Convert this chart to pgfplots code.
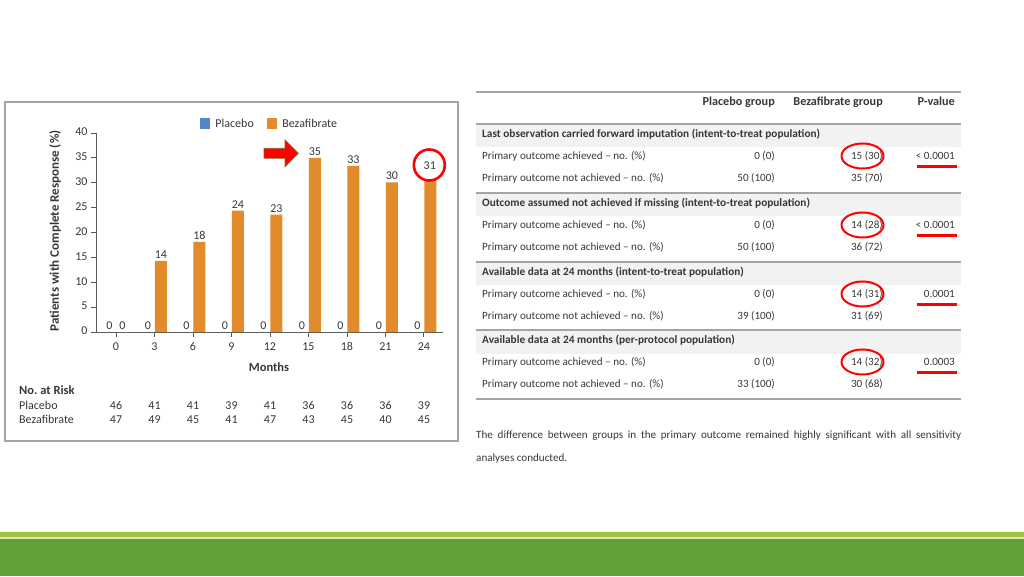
\documentclass[border=0pt]{standalone}
\usepackage{fontspec}
\setmainfont{Carlito}
\usepackage{pgfplots}
\usepackage{pgfplotstable}
\pgfplotsset{compat=1.18}

\definecolor{placebo}{RGB}{84,135,200}
\definecolor{beza}{RGB}{226,139,44}
\definecolor{axgray}{RGB}{90,90,90}
\definecolor{txt}{RGB}{55,55,55}
\definecolor{rulec}{RGB}{165,165,165}
\definecolor{band}{RGB}{242,242,242}
\definecolor{lgreen}{RGB}{157,196,60}
\definecolor{dgreen}{RGB}{96,162,56}
\definecolor{arrowedge}{RGB}{125,110,40}

% percent of patients with complete response
% (the 24-month label is written inside the red circle below)
\pgfplotstableread{
month placebo beza lab
0  0 0    0
3  0 14.3 14
6  0 18.1 18
9  0 24.4 24
12 0 23.6 23
15 0 35.0 35
18 0 33.4 33
21 0 30.1 30
24 0 31.0 {}
}\resp

\newcommand{\chartfont}{\fontsize{12}{14}\selectfont}
\newcommand{\tabfont}{\fontsize{11.1}{13}\selectfont}

\begin{document}
\begin{tikzpicture}[
    ch/.style={font=\chartfont, text=txt, inner sep=0pt},
    tb/.style={font=\tabfont, text=txt, inner sep=0pt}]
\path[use as bounding box] (0,0) rectangle (1024pt,576pt);

\begin{axis}[
    at={(96pt,244pt)}, anchor=south west,
    scale only axis, width=347pt, height=199pt,
    xmin=-1.56, xmax=25.49, ymin=0, ymax=40,
    axis x line*=bottom, axis y line*=left,
    axis line style={axgray, line width=0.9pt},
    xtick={0,3,...,24}, ytick={0,5,...,40},
    tick align=outside, major tick length=5pt,
    tick style={axgray, line width=0.8pt},
    /pgf/number format/assume math mode=true,
    every tick label/.append style={font=\chartfont, text=txt},
    typeset ticklabels with strut,
    ybar, bar width=12pt,
    clip=false,
    every node near coord/.append style={font=\chartfont, text=txt, inner sep=2pt},
    ylabel={Patients with Complete Response (\%)},
    xlabel={Months},
    every axis y label/.style={at={(rel axis cs:-0.118,0.508)}, rotate=90, anchor=center,
        font=\bfseries\fontsize{13}{15}\selectfont, text=txt},
    every axis x label/.style={at={(rel axis cs:0.4986,-0.177)}, anchor=center,
        font=\bfseries\fontsize{12.5}{14}\selectfont, text=txt},
    legend columns=2,
    legend style={at={(0.5,1.047)}, anchor=center, draw=none, fill=none,
        font=\chartfont, text=txt,
        /tikz/every even column/.append style={column sep=11pt}},
    legend image code/.code={\fill[#1,draw=none] (0pt,-5.3pt) rectangle (10.5pt,5.3pt);
        \path (0pt,0pt) -- (13.5pt,0pt);},
]
\addplot[fill=placebo, draw=none, bar shift=-6.5pt, nodes near coords]
    table[x=month, y=placebo] {\resp};
\addlegendentry{Placebo}
\addplot[fill=beza, draw=none, bar shift=6.5pt, nodes near coords,
    point meta=explicit symbolic]
    table[x=month, y=beza, meta=lab] {\resp};
\addlegendentry{Bezafibrate}
\end{axis}

\begin{scope}[x=1pt, y=-1pt, yshift=576pt]
% frame of the figure
\draw[rulec, line width=2pt] (5,102.5) rectangle (457.5,440.5);

% highlight of the 24-month value
\draw[red, line width=2.6pt, fill=white] (429.3,165) circle (15.5);
\node[ch, anchor=base] at (429.8,170) {31};

% arrow pointing at month 15
\draw[arrowedge, line width=0.8pt, fill=red]
    (264,148.3) -- (285,148.3) -- (285,140) -- (298.3,153.3) -- (285,166.7)
    -- (285,158.3) -- (264,158.3) -- cycle;

% number at risk
\node[anchor=base west, font=\bfseries\fontsize{12.5}{14}\selectfont, text=txt, inner sep=0pt]
    at (19,394.5) {No.\ at Risk};
\node[ch, anchor=base west] at (19,409) {Placebo};
\node[ch, anchor=base west] at (19,423.5) {Bezafibrate};
\foreach \m/\p/\b in {0/46/47, 3/41/49, 6/41/45, 9/39/41, 12/41/47,
                      15/36/43, 18/36/45, 21/36/40, 24/39/45} {
  \node[ch, anchor=base] at ({116+12.833*\m},409) {\p};
  \node[ch, anchor=base] at ({116+12.833*\m},423.5) {\b};
}

% table on the right
\draw[rulec, line width=1.2pt] (476,92) -- (961,92);
\foreach \x/\t in {775/Placebo group, 883/Bezafibrate group, 955/P-value}
  \node[anchor=base east, font=\bfseries\fontsize{12.2}{14}\selectfont, text=txt, inner sep=0pt] at (\x,105.5) {\t};

\foreach \ly/\title/\pa/\pb/\ba/\bb/\pv in {
  124/{Last observation carried forward imputation (intent-to-treat population)}/0 (0)/50 (100)/15 (30)/35 (70)/{< 0.0001},
  193/{Outcome assumed not achieved if missing (intent-to-treat population)}/0 (0)/50 (100)/14 (28)/36 (72)/{< 0.0001},
  262/{Available data at 24 months (intent-to-treat population)}/0 (0)/39 (100)/14 (31)/31 (69)/0.0001,
  330/{Available data at 24 months (per-protocol population)}/0 (0)/33 (100)/14 (32)/30 (68)/0.0003} {
  \fill[band] (476,\ly) rectangle (961,\ly+23.5);
  \draw[rulec, line width=1.5pt] (476,\ly) -- (961,\ly);
  \node[anchor=base west, font=\bfseries\fontsize{11.3}{13}\selectfont, text=txt, inner sep=0pt] at (482,\ly+13.5) {\title};
  \node[tb, anchor=base west] at (482,\ly+35.5) {Primary outcome achieved -- no. (\%)};
  \node[tb, anchor=base west] at (482,\ly+57.5) {Primary outcome not achieved -- no. (\%)};
  \node[tb, anchor=base east] at (775,\ly+35.5) {\pa};
  \node[tb, anchor=base east] at (775,\ly+57.5) {\pb};
  \node[tb, anchor=base east] at (883,\ly+35.5) {\ba};
  \node[tb, anchor=base east] at (883,\ly+57.5) {\bb};
  \node[tb, anchor=base east] at (955,\ly+35.5) {\pv};
  \draw[red, line width=2pt] (862.5,\ly+32) ellipse (21 and 12.5);
  \draw[red, line width=2.2pt] (917,\ly+42.5) -- (956.5,\ly+42.5);
}
\draw[rulec, line width=1.5pt] (476,399) -- (961,399);

\node[tb, anchor=base west] at (476,438)
  {\makebox[485pt][s]{The difference between groups in the primary outcome remained highly significant with all sensitivity}};
\node[tb, anchor=base west] at (476,461) {analyses conducted.};

% slide footer band
\fill[lgreen] (0,532) rectangle (1024,537);
\fill[lgreen!35] (0,537) rectangle (1024,538.5);
\fill[dgreen] (0,538.5) rectangle (1024,576);
\end{scope}
\end{tikzpicture}
\end{document}
